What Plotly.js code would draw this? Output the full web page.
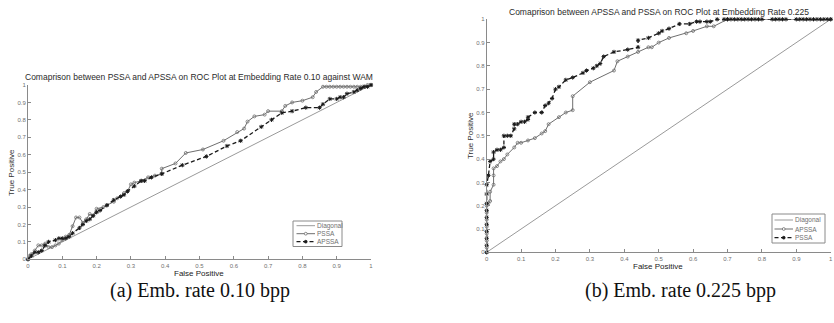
<!DOCTYPE html>
<html>
<head>
<meta charset="utf-8">
<script src="https://cdn.plot.ly/plotly-3.0.1.min.js"></script>
<style>html,body{margin:0;padding:0;background:#fff;}#chart{width:834px;height:323px;}</style>
</head>
<body>
<div id="chart"></div>
<script>
// ---- Data ----
const diagX = [0, 1];
const diagY = [0, 1];

// (a) Embedding rate 0.10 bpp against WAM
const aPssaX = [0, 0.005, 0.01, 0.02, 0.03, 0.04, 0.05, 0.06, 0.07, 0.08, 0.09, 0.1, 0.11, 0.12, 0.13, 0.14, 0.15, 0.16, 0.17, 0.18, 0.19, 0.2, 0.22, 0.23, 0.25, 0.26, 0.28, 0.29, 0.3, 0.31, 0.33, 0.35, 0.37, 0.39, 0.39, 0.43, 0.46, 0.51, 0.57, 0.61, 0.63, 0.64, 0.66, 0.69, 0.7, 0.74, 0.75, 0.77, 0.8, 0.83, 0.84, 0.86, 0.87, 0.88, 0.89, 0.9, 0.91, 0.92, 0.93, 0.94, 0.95, 0.96, 0.97, 0.98, 0.99, 1];
const aPssaY = [0, 0.02, 0.03, 0.05, 0.08, 0.08, 0.09, 0.07, 0.07, 0.08, 0.09, 0.11, 0.13, 0.14, 0.19, 0.24, 0.24, 0.21, 0.23, 0.26, 0.25, 0.29, 0.3, 0.31, 0.33, 0.35, 0.38, 0.39, 0.43, 0.44, 0.45, 0.47, 0.48, 0.49, 0.52, 0.55, 0.61, 0.63, 0.68, 0.73, 0.75, 0.79, 0.82, 0.83, 0.85, 0.85, 0.88, 0.9, 0.91, 0.93, 0.96, 0.99, 0.99, 0.99, 0.99, 0.99, 0.99, 0.99, 0.99, 0.99, 0.99, 0.99, 0.99, 0.99, 1, 1];
const aApssaX = [0, 0.01, 0.02, 0.03, 0.04, 0.05, 0.06, 0.08, 0.09, 0.1, 0.11, 0.12, 0.13, 0.15, 0.16, 0.17, 0.18, 0.19, 0.2, 0.21, 0.23, 0.25, 0.27, 0.28, 0.29, 0.31, 0.33, 0.34, 0.36, 0.39, 0.45, 0.52, 0.58, 0.62, 0.68, 0.71, 0.74, 0.77, 0.81, 0.85, 0.86, 0.88, 0.9, 0.91, 0.92, 0.93, 0.95, 0.96, 0.97, 0.98, 0.99, 1];
const aApssaY = [0, 0.02, 0.04, 0.04, 0.05, 0.08, 0.1, 0.11, 0.12, 0.12, 0.12, 0.13, 0.15, 0.18, 0.2, 0.22, 0.23, 0.25, 0.27, 0.28, 0.31, 0.34, 0.36, 0.37, 0.39, 0.42, 0.45, 0.45, 0.47, 0.49, 0.54, 0.59, 0.65, 0.68, 0.76, 0.8, 0.84, 0.85, 0.87, 0.87, 0.89, 0.92, 0.92, 0.93, 0.93, 0.95, 0.96, 0.97, 0.98, 0.99, 0.99, 1];

// (b) Embedding rate 0.225 bpp
const bPssaX = [0, 0, 0, 0, 0, 0, 0, 0, 0, 0, 0.005, 0.01, 0.02, 0.02, 0.03, 0.04, 0.05, 0.05, 0.06, 0.07, 0.08, 0.08, 0.09, 0.1, 0.11, 0.12, 0.12, 0.14, 0.16, 0.17, 0.18, 0.19, 0.2, 0.21, 0.23, 0.25, 0.28, 0.29, 0.31, 0.32, 0.33, 0.34, 0.37, 0.41, 0.44, 0.44, 0.47, 0.5, 0.51, 0.53, 0.56, 0.59, 0.61, 0.62, 0.64, 0.65, 0.67, 0.69, 0.7, 0.71, 0.72, 0.73, 0.74, 0.75, 0.76, 0.77, 0.78, 0.79, 0.8, 0.83, 0.84, 0.85, 0.86, 0.87, 0.9, 0.91, 0.92, 0.93, 0.94, 0.95, 0.96, 0.97, 0.98, 0.99, 1];
const bPssaY = [0, 0.03, 0.06, 0.09, 0.12, 0.15, 0.18, 0.21, 0.25, 0.29, 0.33, 0.39, 0.4, 0.43, 0.44, 0.44, 0.45, 0.5, 0.5, 0.5, 0.53, 0.55, 0.55, 0.56, 0.56, 0.57, 0.58, 0.6, 0.6, 0.63, 0.64, 0.66, 0.7, 0.71, 0.74, 0.75, 0.77, 0.78, 0.79, 0.8, 0.81, 0.84, 0.86, 0.87, 0.88, 0.91, 0.92, 0.94, 0.95, 0.96, 0.98, 0.98, 0.99, 0.99, 0.99, 0.99, 1, 1, 1, 1, 1, 1, 1, 1, 1, 1, 1, 1, 1, 1, 1, 1, 1, 1, 1, 1, 1, 1, 1, 1, 1, 1, 1, 1, 1];
const bApssaX = [0, 0, 0, 0, 0, 0, 0, 0, 0.005, 0.01, 0.01, 0.02, 0.02, 0.02, 0.03, 0.04, 0.05, 0.06, 0.08, 0.09, 0.1, 0.12, 0.14, 0.16, 0.17, 0.18, 0.21, 0.23, 0.25, 0.25, 0.3, 0.37, 0.38, 0.41, 0.44, 0.47, 0.48, 0.5, 0.53, 0.58, 0.6, 0.64, 0.66, 0.7, 1];
const bApssaY = [0, 0.02, 0.05, 0.08, 0.11, 0.14, 0.17, 0.2, 0.21, 0.22, 0.26, 0.29, 0.33, 0.36, 0.37, 0.39, 0.4, 0.42, 0.45, 0.47, 0.47, 0.48, 0.49, 0.51, 0.52, 0.55, 0.58, 0.6, 0.61, 0.67, 0.73, 0.78, 0.82, 0.84, 0.86, 0.88, 0.88, 0.9, 0.92, 0.94, 0.95, 0.97, 0.97, 1, 1];

const seriesNamesA = ["Diagonal", "PSSA", "APSSA"];
const seriesNamesB = ["Diagonal", "APSSA", "PSSA"];
const titleA = "Comaprison between PSSA and APSSA on ROC Plot at Embedding Rate 0.10 against WAM";
const titleB = "Comaprison between APSSA and PSSA on ROC Plot at Embedding Rate 0.225";
const captionA = "(a) Emb. rate 0.10 bpp";
const captionB = "(b) Emb. rate 0.225 bpp";
const xLabel = "False Positive";
const yLabel = "True Positive";

// ---- Styles ----
const W = 834, H = 323;
const FONT = 'Arial, Liberation Sans, sans-serif';
const GRAY = '#6e6e6e', BLACK = '#1a1a1a', DIAG = '#9a9a9a', AXIS = '#8a8a8a';
const grayLine = {color: GRAY, width: 1};
const blackDash = {color: BLACK, width: 1.3, dash: '4px,2.5px'};
const grayMarker = {symbol: 'circle-open', size: 3, color: GRAY, line: {width: 0.8, color: GRAY}};
const blackMarker = {symbol: 'asterisk-open', size: 3.5, color: BLACK, line: {width: 1, color: BLACK}};
const diagLine = {color: DIAG, width: 1};

const traces = [
  {x: diagX, y: diagY, name: seriesNamesA[0], mode: 'lines', line: diagLine, xaxis: 'x', yaxis: 'y'},
  {x: aPssaX, y: aPssaY, name: seriesNamesA[1], mode: 'lines+markers', line: grayLine, marker: grayMarker, xaxis: 'x', yaxis: 'y', cliponaxis: false},
  {x: aApssaX, y: aApssaY, name: seriesNamesA[2], mode: 'lines+markers', line: blackDash, marker: blackMarker, xaxis: 'x', yaxis: 'y', cliponaxis: false},
  {x: diagX, y: diagY, name: seriesNamesB[0], mode: 'lines', line: diagLine, xaxis: 'x2', yaxis: 'y2'},
  {x: bApssaX, y: bApssaY, name: seriesNamesB[1], mode: 'lines+markers', line: grayLine, marker: grayMarker, xaxis: 'x2', yaxis: 'y2', cliponaxis: false},
  {x: bPssaX, y: bPssaY, name: seriesNamesB[2], mode: 'lines+markers', line: blackDash, marker: blackMarker, xaxis: 'x2', yaxis: 'y2', cliponaxis: false}
];

function axisBase(domain, anchor) {
  return {
    domain: domain, anchor: anchor, range: [0, 1], dtick: 0.1, tick0: 0,
    showgrid: false, zeroline: false, showline: true, linecolor: AXIS, linewidth: 1,
    ticks: 'inside', ticklen: 3, tickcolor: AXIS, tickwidth: 1,
    tickfont: {family: FONT, size: 6, color: '#707070'},
    fixedrange: true
  };
}

const px = v => v / W;
const py = v => (H - v) / H;

// compact MATLAB-style legend boxes (built from the series names and styles)
const shapes = [];
const annotations = [];
function legendBox(box, rows, lineX0, lineX1, textX, names, styles) {
  shapes.push({type: 'rect', xref: 'paper', yref: 'paper', x0: px(box[0]), x1: px(box[1]), y0: py(box[3]), y1: py(box[2]),
    line: {color: AXIS, width: 1}, fillcolor: '#ffffff', layer: 'above'});
  names.forEach((nm, i) => {
    const st = styles[i];
    const yy = rows[i];
    shapes.push({type: 'line', xref: 'paper', yref: 'paper', x0: px(lineX0), x1: px(lineX1), y0: py(yy), y1: py(yy),
      line: {color: st.line.color, width: st.line.width, dash: st.line.dash || 'solid'}, layer: 'above'});
    if (st.marker) {
      const cx = (lineX0 + lineX1) / 2, r = 1.4;
      shapes.push({type: 'circle', xref: 'paper', yref: 'paper', x0: px(cx - r), x1: px(cx + r), y0: py(yy + r), y1: py(yy - r),
        line: {color: st.marker.color, width: 0.8}, fillcolor: st.marker.symbol === 'circle-open' ? '#ffffff' : st.marker.color, layer: 'above'});
    }
    annotations.push({text: nm, x: px(textX), y: py(yy), xref: 'paper', yref: 'paper', showarrow: false, xanchor: 'left', yanchor: 'middle',
      font: {family: FONT, size: 6.5, color: '#707070'}, borderpad: 0});
  });
}
legendBox([293, 342, 221, 246.5], [225.7, 233.7, 241.7], 296.5, 315, 315.5, seriesNamesA,
  [{line: diagLine}, {line: grayLine, marker: grayMarker}, {line: blackDash, marker: blackMarker}]);
legendBox([772, 825, 214, 243], [220, 229, 237.7], 774.5, 793, 793.5, seriesNamesB,
  [{line: diagLine}, {line: grayLine, marker: grayMarker}, {line: blackDash, marker: blackMarker}]);

function label(text, x, y, size, color, extra) {
  annotations.push(Object.assign({text: text, x: px(x), y: py(y), xref: 'paper', yref: 'paper', showarrow: false,
    xanchor: 'center', yanchor: 'middle', font: {family: FONT, size: size, color: color}}, extra || {}));
}
label(titleA, 199, 77, 8.5, '#2a2a2a');
label(titleB, 659, 12, 8.5, '#2a2a2a');
label(xLabel, 199, 273, 8, '#222');
label(xLabel, 658, 266.5, 8, '#222');
label(yLabel, 11, 173, 8, '#333', {textangle: -90});
label(yLabel, 470, 136, 8, '#333', {textangle: -90});
annotations.push({text: captionA, x: px(200), y: py(290), xref: 'paper', yref: 'paper', showarrow: false, xanchor: 'center', yanchor: 'middle',
  font: {family: 'Liberation Serif, DejaVu Serif, serif', size: 20, color: '#111'}});
annotations.push({text: captionB, x: px(680), y: py(290), xref: 'paper', yref: 'paper', showarrow: false, xanchor: 'center', yanchor: 'middle',
  font: {family: 'Liberation Serif, DejaVu Serif, serif', size: 20, color: '#111'}});

const layout = {
  width: W, height: H, margin: {l: 0, r: 0, t: 0, b: 0},
  paper_bgcolor: '#ffffff', plot_bgcolor: '#ffffff', showlegend: false,
  xaxis: axisBase([px(28), px(371)], 'y'),
  yaxis: axisBase([py(259.3), py(85)], 'x'),
  xaxis2: axisBase([px(486.7), px(830.7)], 'y2'),
  yaxis2: axisBase([py(252.3), py(19.3)], 'x2'),
  shapes: shapes,
  annotations: annotations
};

Plotly.newPlot('chart', traces, layout, {displayModeBar: false, staticPlot: true});
</script>
</body>
</html>
